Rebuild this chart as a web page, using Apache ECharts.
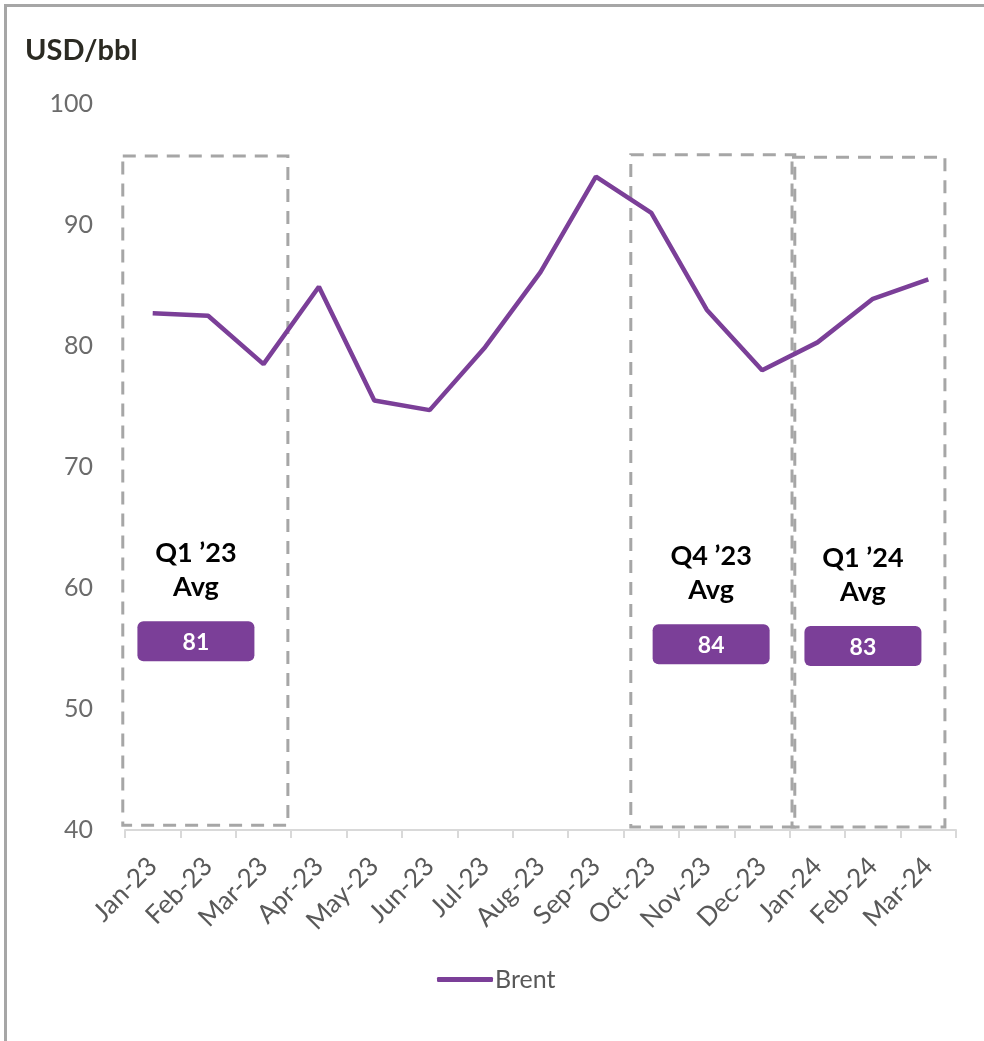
<!DOCTYPE html>
<html>
<head>
<meta charset="utf-8">
<script src="https://cdn.jsdelivr.net/npm/echarts@6/dist/echarts.min.js"></script>
<style>
html,body{margin:0;padding:0;background:#fff;}
#chart{width:984px;height:1041px;}
</style>
</head>
<body>
<div id="chart"></div>
<script>
// ---- data ----
var categories = ['Jan-23','Feb-23','Mar-23','Apr-23','May-23','Jun-23','Jul-23','Aug-23','Sep-23','Oct-23','Nov-23','Dec-23','Jan-24','Feb-24','Mar-24'];
var brent = [82.7, 82.5, 78.5, 84.9, 75.5, 74.7, 79.9, 86.1, 94.0, 91.0, 83.0, 78.0, 80.3, 83.9, 85.5];
var yTicks = [40, 50, 60, 70, 80, 90, 100];
var quarterNames = ['Q1 \u201923', 'Q4 \u201923', 'Q1 \u201924'];
var quarterAvg = [81, 84, 83];
// box extents in category-index units
var boxStart = [-0.54, 8.63, 11.54];
var boxEnd = [2.44, 11.59, 14.30];
var boxTop = [95.7, 95.8, 95.6];
var boxBottom = [40.4, 40.25, 40.25];
var badgeCenter = [0.78, 10.08, 12.82];
var badgeLevel = [55.6, 55.35, 55.2];

var FONT = 'Lato, "Open Sans", sans-serif';
var PURPLE = '#7B3F98';

var boxData = quarterNames.map(function (n, i) {
  return [boxStart[i], boxEnd[i], boxTop[i], boxBottom[i], badgeCenter[i], badgeLevel[i], quarterAvg[i], n];
});

var chart = echarts.init(document.getElementById('chart'));
chart.setOption({
  animation: false,
  backgroundColor: '#ffffff',
  title: {
    text: 'USD/bbl',
    left: 20, top: 31,
    textStyle: { fontFamily: FONT, fontSize: 29, fontWeight: 'bold', color: '#2b2a22' }
  },
  grid: { left: 125, right: 28, top: 104, bottom: 211 },
  legend: {
    data: ['Brent'],
    icon: 'roundRect',
    left: 432, top: 962,
    itemWidth: 56, itemHeight: 5, itemGap: 2,
    textStyle: { fontFamily: FONT, fontSize: 25, color: '#595959', padding: [0, 0, 0, -3] }
  },
  xAxis: [{
    type: 'category',
    data: categories,
    boundaryGap: true,
    axisLine: { lineStyle: { color: '#d9d9d9', width: 2 } },
    axisTick: { show: true, length: 8, lineStyle: { color: '#d9d9d9', width: 2 } },
    axisLabel: { interval: 0, rotate: 45, fontFamily: FONT, fontSize: 26, color: '#595959', margin: 32 }
  }, {
    type: 'value', min: -0.5, max: categories.length - 0.5, show: false
  }],
  yAxis: {
    type: 'value',
    min: yTicks[0], max: yTicks[yTicks.length - 1], interval: 10,
    axisLine: { show: false },
    axisTick: { show: false },
    splitLine: { show: false },
    axisLabel: { fontFamily: FONT, fontSize: 25, color: '#6b6b6b', margin: 32 }
  },
  graphic: [
    { type: 'line', shape: { x1: 5.5, y1: 5, x2: 5.5, y2: 1041 }, style: { stroke: '#a6a6a6', lineWidth: 3 } },
    { type: 'line', shape: { x1: 4, y1: 5.5, x2: 984, y2: 5.5 }, style: { stroke: '#a6a6a6', lineWidth: 3 } }
  ],
  series: [{
    name: 'Brent',
    type: 'line',
    data: brent,
    symbol: 'none',
    lineStyle: { color: PURPLE, width: 4.5 },
    itemStyle: { color: PURPLE },
    z: 3
  }, {
    type: 'custom',
    xAxisIndex: 1,
    data: boxData,
    z: 2,
    renderItem: function (params, api) {
      var p0 = api.coord([api.value(0), api.value(2)]);
      var p1 = api.coord([api.value(1), api.value(3)]);
      var b = api.coord([api.value(4), api.value(5)]);
      var item = boxData[params.dataIndex];
      return {
        type: 'group',
        children: [{
          type: 'rect',
          shape: { x: p0[0], y: p0[1], width: p1[0] - p0[0], height: p1[1] - p0[1] },
          style: { fill: 'none', stroke: '#a6a6a6', lineWidth: 3, lineDash: [13, 9] }
        }, {
          type: 'text',
          x: b[0], y: b[1] - 71,
          style: {
            text: item[7] + '\nAvg', fill: '#000', fontFamily: FONT, fontSize: 27, fontWeight: 'bold',
            align: 'center', verticalAlign: 'middle', lineHeight: 34
          }
        }, {
          type: 'rect',
          shape: { x: b[0] - 58.5, y: b[1] - 20, width: 117, height: 40, r: 6 },
          style: { fill: PURPLE }
        }, {
          type: 'text',
          x: b[0], y: b[1] + 1,
          style: {
            text: String(item[6]), fill: '#fff', fontFamily: FONT, fontSize: 23, fontWeight: 'bold',
            align: 'center', verticalAlign: 'middle'
          }
        }]
      };
    }
  }]
});
</script>
</body>
</html>
